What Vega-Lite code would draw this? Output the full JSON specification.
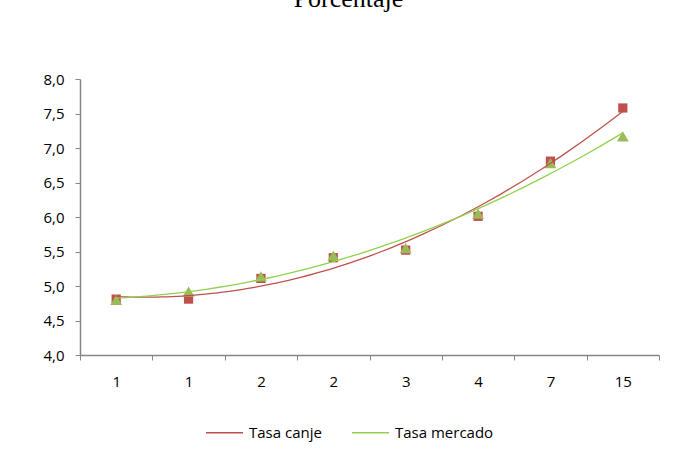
{
  "$schema": "https://vega.github.io/schema/vega-lite/v6.json",
  "width": 579,
  "height": 276,
  "autosize": {"type": "none"},
  "padding": {"left": 80, "top": 79, "right": 15, "bottom": 94},
  "background": "white",
  "config": {"view": {"stroke": null}},
  "title": {"text": "Porcentaje", "font": "Liberation Serif", "fontSize": 26, "fontWeight": "normal", "color": "#000000", "anchor": "middle", "offset": 60, "dx": -21},
  "data": {
    "values": [
      {"idx": 1, "plazo": "1", "serie": "Tasa canje", "valor": 4.81},
      {"idx": 2, "plazo": "1", "serie": "Tasa canje", "valor": 4.81},
      {"idx": 3, "plazo": "2", "serie": "Tasa canje", "valor": 5.11},
      {"idx": 4, "plazo": "2", "serie": "Tasa canje", "valor": 5.41},
      {"idx": 5, "plazo": "3", "serie": "Tasa canje", "valor": 5.52},
      {"idx": 6, "plazo": "4", "serie": "Tasa canje", "valor": 6.01},
      {"idx": 7, "plazo": "7", "serie": "Tasa canje", "valor": 6.81},
      {"idx": 8, "plazo": "15", "serie": "Tasa canje", "valor": 7.58},
      {"idx": 1, "plazo": "1", "serie": "Tasa mercado", "valor": 4.8},
      {"idx": 2, "plazo": "1", "serie": "Tasa mercado", "valor": 4.92},
      {"idx": 3, "plazo": "2", "serie": "Tasa mercado", "valor": 5.14},
      {"idx": 4, "plazo": "2", "serie": "Tasa mercado", "valor": 5.44},
      {"idx": 5, "plazo": "3", "serie": "Tasa mercado", "valor": 5.55},
      {"idx": 6, "plazo": "4", "serie": "Tasa mercado", "valor": 6.05},
      {"idx": 7, "plazo": "7", "serie": "Tasa mercado", "valor": 6.78},
      {"idx": 8, "plazo": "15", "serie": "Tasa mercado", "valor": 7.17}
    ]
  },
  "encoding": {
    "x": {
      "field": "idx", "type": "quantitative",
      "scale": {"domain": [0.5, 8.5], "nice": false, "zero": false},
      "axis": {
        "values": [0.5, 1, 1.5, 2, 2.5, 3, 3.5, 4, 4.5, 5, 5.5, 6, 6.5, 7, 7.5, 8, 8.5],
        "labelExpr": "datum.value == 1 ? '1' : datum.value == 2 ? '1' : datum.value == 3 ? '2' : datum.value == 4 ? '2' : datum.value == 5 ? '3' : datum.value == 6 ? '4' : datum.value == 7 ? '7' : datum.value == 8 ? '15' : ''",
        "tickOpacity": {"condition": {"test": "datum.value % 1 != 0", "value": 1}, "value": 0},
        "tickSize": 5, "tickColor": "#868686", "domainColor": "#868686", "domainWidth": 1.5,
        "labelPadding": 14, "labelFont": "Open Sans", "labelFontSize": 15, "labelColor": "#000000",
        "labelAngle": 0, "labelFlush": false, "labelOverlap": false, "labelBound": false, "grid": false, "title": null
      }
    },
    "y": {
      "field": "valor", "type": "quantitative",
      "scale": {"domain": [4, 8], "nice": false, "zero": false},
      "axis": {
        "values": [4, 4.5, 5, 5.5, 6, 6.5, 7, 7.5, 8],
        "labelExpr": "replace(format(datum.value, '.1f'), '.', ',')",
        "tickSize": 5, "tickColor": "#868686", "domainColor": "#868686", "domainWidth": 1.5,
        "labelPadding": 11, "labelFont": "Open Sans", "labelFontSize": 15, "labelColor": "#000000",
        "labelOverlap": false, "labelBound": false, "grid": false, "title": null
      }
    }
  },
  "layer": [
    {
      "transform": [{"filter": "datum.serie == 'Tasa canje'"}],
      "mark": {"type": "point", "filled": true, "opacity": 1, "strokeWidth": 0, "size": 85, "shape": "square", "color": "#C0504D"}
    },
    {
      "transform": [{"filter": "datum.serie == 'Tasa mercado'"}],
      "mark": {"type": "point", "filled": true, "opacity": 1, "strokeWidth": 0, "size": 140, "shape": "triangle-up", "color": "#9BBB59"}
    },
    {
      "transform": [
        {"regression": "valor", "on": "idx", "groupby": ["serie"], "method": "poly", "order": 2}
      ],
      "mark": {"type": "line", "strokeWidth": 1.3},
      "encoding": {
        "color": {
          "field": "serie", "type": "nominal",
          "scale": {"domain": ["Tasa canje", "Tasa mercado"], "range": ["#C0504D", "#92D050"]},
          "legend": {
            "orient": "none", "legendX": 125, "legendY": 334, "direction": "horizontal",
            "title": null, "symbolType": "stroke", "symbolSize": 1369, "symbolStrokeWidth": 1.5,
            "labelFont": "Open Sans", "labelFontSize": 15, "labelColor": "#000000",
            "columnPadding": 27, "labelOffset": 5, "padding": 0
          }
        }
      }
    }
  ]
}
